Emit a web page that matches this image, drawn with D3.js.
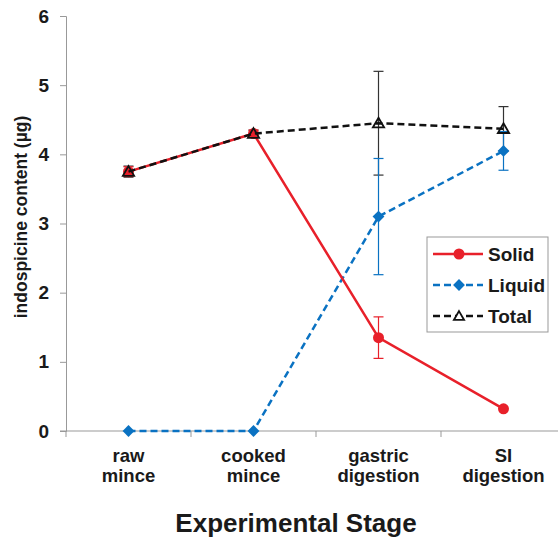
<!DOCTYPE html>
<html><head><meta charset="utf-8">
<script src="https://cdn.jsdelivr.net/npm/d3@7"></script>
<style>body{margin:0;background:#fff}svg text{font-family:Arial,"Liberation Sans",sans-serif;font-weight:bold;fill:#1a1a1a}</style>
</head><body><svg id="c" width="558" height="540"></svg>
<script>
const categories = [["raw","mince"],["cooked","mince"],["gastric","digestion"],["SI","digestion"]];
const solid = [3.75, 4.30, 1.35, 0.32];
const solidErr = [0.07, 0.05, 0.30, 0];
const liquid = [0, 0, 3.10, 4.05];
const liquidErr = [0, 0, 0.84, 0.28];
const total = [3.75, 4.30, 4.45, 4.37];
const totalErr = [0.08, 0.05, 0.75, 0.32];
const yTicks = [0,1,2,3,4,5,6];

const svg = d3.select("#c");
const x = d3.scaleBand().domain(d3.range(4)).range([66, 566]).padding(0);
const y = d3.scaleLinear().domain([0,6]).range([431, 16]);
const cx = i => x(i) + x.bandwidth()/2;

// axes
const ya = svg.append("g").attr("transform","translate(66,0)")
  .call(d3.axisLeft(y).tickValues(yTicks).tickSize(6).tickFormat(d3.format("d")));
ya.select(".domain").attr("stroke","#999");
ya.selectAll(".tick line").attr("stroke","#999");
ya.selectAll(".tick text").attr("font-size",19).attr("x",-17);

const xa = svg.append("g").attr("transform","translate(0,431)");
xa.append("line").attr("x1",60).attr("x2",558).attr("stroke","#999");
[0,1,2,3].forEach(i=>{
  xa.append("line").attr("x1",x(i)).attr("x2",x(i)).attr("y1",0).attr("y2",6).attr("stroke","#999");
});
categories.forEach((c,i)=>{
  const t = svg.append("text").attr("x",cx(i)).attr("text-anchor","middle").attr("font-size",18.5);
  t.append("tspan").attr("x",cx(i)).attr("y",462).text(c[0]);
  t.append("tspan").attr("x",cx(i)).attr("y",482).text(c[1]);
});

svg.append("text").attr("transform","translate(27,217) rotate(-90)").attr("text-anchor","middle")
  .attr("font-size",17.5).text("indospicine content (µg)");
svg.append("text").attr("x",296).attr("y",532).attr("text-anchor","middle").attr("font-size",26).text("Experimental Stage");

const line = d3.line().x((d,i)=>cx(i)).y(d=>y(d));

function errs(vals, e, color){
  vals.forEach((v,i)=>{
    if(!e[i]) return;
    const g = svg.append("g").attr("stroke",color).attr("stroke-width",1.2);
    g.append("line").attr("x1",cx(i)).attr("x2",cx(i)).attr("y1",y(v-e[i])).attr("y2",y(v+e[i]));
    [v-e[i], v+e[i]].forEach(w=>g.append("line").attr("x1",cx(i)-5).attr("x2",cx(i)+5).attr("y1",y(w)).attr("y2",y(w)));
  });
}

const red = "#e8202a", blue = "#0a72c2", blk = "#111";
errs(total, totalErr, "#333");
errs(liquid, liquidErr, blue);
errs(solid, solidErr, red);

// Liquid
svg.append("path").datum(liquid).attr("d",line).attr("fill","none").attr("stroke",blue).attr("stroke-width",2.5).attr("stroke-dasharray","7,4");
svg.selectAll(".lq").data(liquid).join("path").attr("d",d3.symbol().type(d3.symbolSquare).size(70))
  .attr("transform",(d,i)=>`translate(${cx(i)},${y(d)}) rotate(45)`).attr("fill",blue);
// Solid
svg.append("path").datum(solid).attr("d",line).attr("fill","none").attr("stroke",red).attr("stroke-width",2.5);
svg.selectAll(".sd").data(solid).join("circle").attr("cx",(d,i)=>cx(i)).attr("cy",d=>y(d)).attr("r",5.5).attr("fill",red);
// Total
svg.append("path").datum(total).attr("d",line).attr("fill","none").attr("stroke",blk).attr("stroke-width",2.5).attr("stroke-dasharray","7,4");
svg.selectAll(".tt").data(total).join("path").attr("d",d3.symbol().type(d3.symbolTriangle).size(55))
  .attr("transform",(d,i)=>`translate(${cx(i)},${y(d)+1})`).attr("fill","none").attr("stroke",blk).attr("stroke-width",1.8);

// Legend
const lg = svg.append("g");
lg.append("rect").attr("x",427).attr("y",237).attr("width",121).attr("height",95).attr("fill","#fff").attr("stroke","#999");
const items = [["Solid",red,null,"circle"],["Liquid",blue,"7,4","diamond"],["Total",blk,"7,4","triangle"]];
items.forEach((it,k)=>{
  const yy = 254 + k*31;
  lg.append("line").attr("x1",433).attr("x2",483).attr("y1",yy).attr("y2",yy).attr("stroke",it[1]).attr("stroke-width",2.5).attr("stroke-dasharray",it[2]);
  if(it[3]==="circle") lg.append("circle").attr("cx",459).attr("cy",yy).attr("r",5.5).attr("fill",red);
  if(it[3]==="diamond") lg.append("path").attr("d",d3.symbol().type(d3.symbolSquare).size(70)).attr("transform",`translate(459,${yy}) rotate(45)`).attr("fill",blue);
  if(it[3]==="triangle") lg.append("path").attr("d",d3.symbol().type(d3.symbolTriangle).size(45)).attr("transform",`translate(459,${yy+1})`).attr("fill","#fff").attr("stroke",blk).attr("stroke-width",1.8);
  lg.append("text").attr("x",488).attr("y",yy+7).attr("font-size",19).text(it[0]);
});
</script></body></html>
